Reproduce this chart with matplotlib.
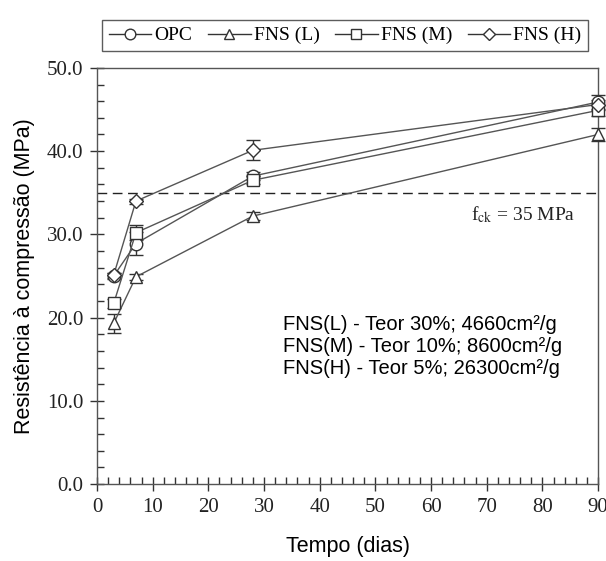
import numpy as np
import matplotlib
matplotlib.use("Agg")
import matplotlib.pyplot as plt
from matplotlib.lines import Line2D
from matplotlib.ticker import MultipleLocator, FormatStrFormatter

# ages (days) and compressive strength (MPa)
days = [3, 7, 28, 90]
opc = [25.0, 28.9, 37.0, 45.9]
fns_l = [19.3, 24.9, 32.2, 42.0]
fns_m = [21.7, 30.2, 36.5, 44.9]
fns_h = [25.1, 34.0, 40.1, 45.6]

opc_err = [0.4, 1.4, 0.5, 0.8]
fns_l_err = [1.1, 0.4, 0.5, 0.8]
fns_m_err = [0.5, 0.9, 0.5, 0.7]
fns_h_err = [0.3, 0.3, 1.2, 0.6]

fck = 35
series_names = ["OPC", "FNS (L)", "FNS (M)", "FNS (H)"]
notes = ["FNS(L) - Teor 30%; 4660cm²/g",
         "FNS(M) - Teor 10%; 8600cm²/g",
         "FNS(H) - Teor 5%; 26300cm²/g"]

serif = "Liberation Serif"
sans = "Liberation Sans"

fig = plt.figure(figsize=(6.06, 5.61), dpi=100)
ax = fig.add_axes([0.160, 0.137, 0.827, 0.742])

line_c = "#555555"
marks = ["o", "^", "s", "D"]
sizes = [9, 9, 9, 7]
data = [opc, fns_l, fns_m, fns_h]
errs = [opc_err, fns_l_err, fns_m_err, fns_h_err]

for y, e, m, s, name in zip(data, errs, marks, sizes, series_names):
    ax.errorbar(days, y, yerr=e, color=line_c, lw=1.0, marker=m, ms=s,
                mfc="white", mec="#333333", mew=1.0, ecolor="#333333",
                elinewidth=1.0, capsize=5, capthick=1.0, clip_on=False,
                zorder=3, label=name)

# design strength
ax.axhline(fck, color="#222222", lw=1.0, ls=(0, (7, 4)), zorder=2)
ax.text(0.955, (fck - 2.6) / 50, r"f$_{\rm ck}$ = 35 MPa", transform=ax.transAxes,
        ha="right", va="center", fontsize=14, family=serif, color="#222222",
        math_fontfamily="stix")

ax.text(0.372, 0.33, "\n".join(notes), transform=ax.transAxes, ha="left",
        va="center", fontsize=14.5, family=sans, linespacing=1.2)

ax.set_xlim(0, 90)
ax.set_ylim(0, 50)
ax.xaxis.set_major_locator(MultipleLocator(10))
ax.xaxis.set_minor_locator(MultipleLocator(2))
ax.yaxis.set_major_locator(MultipleLocator(10))
ax.yaxis.set_minor_locator(MultipleLocator(2))
ax.yaxis.set_major_formatter(FormatStrFormatter("%.1f"))
ax.tick_params(which="major", direction="inout", length=10, width=1.0,
               colors="#333333", labelcolor="#222222", labelsize=15)
ax.tick_params(which="minor", direction="in", length=5, width=1.0, colors="#333333")
ax.tick_params(axis="x", pad=5)
ax.tick_params(axis="y", pad=5)
for lab in ax.get_xticklabels() + ax.get_yticklabels():
    lab.set_family(serif)
for sp in ax.spines.values():
    sp.set_color("#555555")
    sp.set_linewidth(1.0)

ax.set_xlabel("Tempo (dias)", fontsize=15.5, family=sans, labelpad=14)
ax.set_ylabel("Resistência à compressão (MPa)", fontsize=15.5, family=sans, labelpad=8)

# legend handles without the error bars
proxies = [Line2D([], [], color="#333333", lw=1.0, marker=m, ms=s * 0.85,
                  mfc="white", mec="#333333", mew=1.0)
           for m, s in zip(marks, sizes)]
leg = ax.legend(proxies, series_names, loc="lower center",
                bbox_to_anchor=(0.495, 1.04), ncol=4, frameon=True,
                fancybox=False, edgecolor="#333333",
                prop={"family": serif, "size": 14}, handlelength=2.2,
                handletextpad=0.15, columnspacing=0.8, borderpad=0.35,
                borderaxespad=0)
leg.get_frame().set_linewidth(1.0)

fig.savefig("out.png", dpi=100)
